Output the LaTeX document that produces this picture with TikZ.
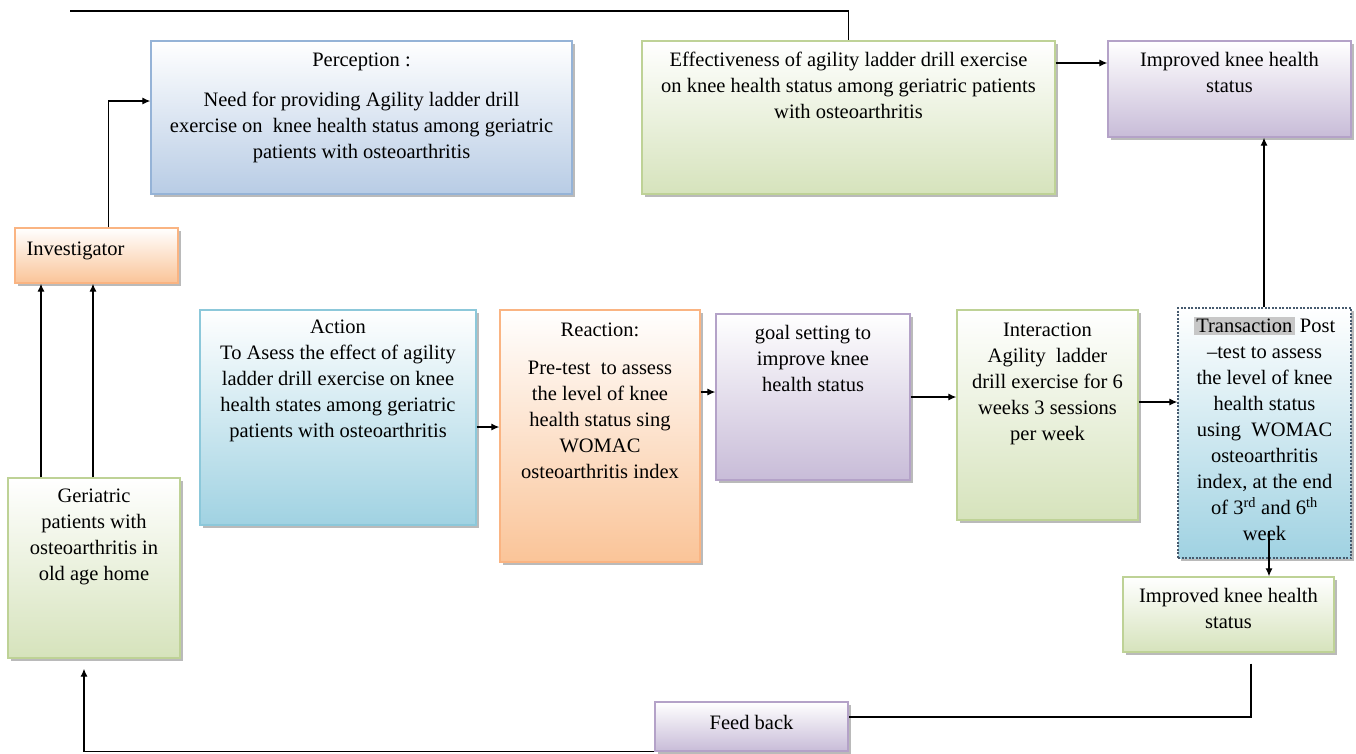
\documentclass[tikz,border=0pt]{standalone}
\usepackage{fontspec}
\setmainfont{Liberation Serif}
\usetikzlibrary{positioning,shadows,arrows.meta}

\definecolor{bluebd}{RGB}{149,179,215}
\definecolor{bluebt}{RGB}{184,204,229}
\definecolor{orangebd}{RGB}{250,180,130}
\definecolor{orangebt}{RGB}{250,196,152}
\definecolor{greenbd}{RGB}{190,210,150}
\definecolor{greenbt}{RGB}{214,227,188}
\definecolor{aquabd}{RGB}{140,200,218}
\definecolor{aquabt}{RGB}{160,210,226}
\definecolor{purplebd}{RGB}{180,162,200}
\definecolor{purplebt}{RGB}{200,188,216}
\definecolor{transbd}{RGB}{70,90,110}

\begin{document}
\begin{tikzpicture}
  [x=1pt,y=-1pt,
   box/.style={rectangle,line width=1.3pt,top color=white,
     drop shadow={shadow xshift=2.5pt,shadow yshift=-2.5pt,fill=black!45,opacity=.6}},
   bluebox/.style={box,draw=bluebd,bottom color=bluebt},
   orangebox/.style={box,draw=orangebd,bottom color=orangebt},
   greenbox/.style={box,draw=greenbd,bottom color=greenbt},
   aquabox/.style={box,draw=aquabd,bottom color=aquabt},
   purplebox/.style={box,draw=purplebd,bottom color=purplebt},
   transbox/.style={box,draw=transbd,line width=1.3pt,dash pattern=on 2pt off 1.5pt,bottom color=aquabt},
   txt/.style={align=center,inner sep=0pt,font=\fontsize{20.5}{26}\selectfont},
   line/.style={line width=1.2pt,black},
   arr/.style={line,-{Latex[length=8pt,width=7pt]}}]

  \useasboundingbox (0,0) rectangle (1356,753);

  % boxes
  \node[bluebox,minimum width=421pt,minimum height=153pt] (perc) at (361.5,117.5) {};
  \node[greenbox,minimum width=413pt,minimum height=153pt] (eff) at (848.5,117.5) {};
  \node[purplebox,minimum width=243pt,minimum height=96pt] (imp1) at (1229.5,89) {};
  \node[orangebox,minimum width=163pt,minimum height=55pt] (inv) at (96.5,255.5) {};
  \node[aquabox,minimum width=276pt,minimum height=215pt] (act) at (338,417.5) {};
  \node[orangebox,minimum width=200pt,minimum height=252pt] (react) at (600,436) {};
  \node[purplebox,minimum width=194pt,minimum height=166pt] (goal) at (813,397) {};
  \node[greenbox,minimum width=181pt,minimum height=210pt] (inter) at (1047.5,415) {};
  \node[transbox,minimum width=173pt,minimum height=250pt] (trans) at (1264.5,433) {};
  \node[greenbox,minimum width=211pt,minimum height=75pt] (imp2) at (1228.5,614.5) {};
  \node[greenbox,minimum width=172pt,minimum height=180pt] (ger) at (94,568) {};
  \node[purplebox,minimum width=193pt,minimum height=49pt] (fb) at (751.5,726.5) {};

  % texts
  \node[txt,below=12pt of perc.north] (perc-t) {Perception :\\[14pt]
    Need for providing Agility ladder drill\\
    exercise on\ \ knee health status among geriatric\\
    patients with osteoarthritis};
  \node[txt,below=12pt of eff.north] (eff-t) {Effectiveness of agility ladder drill exercise\\
    on knee health status among geriatric patients\\
    with osteoarthritis};
  \node[txt,below=12pt of imp1.north] (imp1-t) {Improved knee health\\status};
  \node[txt,anchor=west] (inv-t) at ([xshift=12pt,yshift=5pt]inv.west) {Investigator};
  \node[txt,below=10pt of act.north] (act-t) {Action\\
    To Asess the effect of agility\\
    ladder drill exercise on knee\\
    health states among geriatric\\
    patients with osteoarthritis};
  \node[txt,below=13pt of react.north] (react-t) {Reaction:\\[12pt]
    Pre-test\ \ to assess\\
    the level of knee\\
    health status sing\\
    WOMAC\\
    osteoarthritis index};
  \node[txt,below=12pt of goal.north] (goal-t) {goal setting to\\improve knee\\health status};
  \node[txt,below=13pt of inter.north] (inter-t) {Interaction\\
    Agility\ \ ladder\\
    drill exercise for 6\\
    weeks 3 sessions\\
    per week};
  \node[txt,below=9pt of trans.north] (trans-t) {{\setlength{\fboxsep}{2.5pt}\colorbox{black!22}{Transaction}} Post\\
    --test to assess\\
    the level of knee\\
    health status\\
    using\ \ WOMAC\\
    osteoarthritis\\
    index, at the end\\
    of 3\textsuperscript{rd} and 6\textsuperscript{th}\\
    week};
  \node[txt,below=12pt of imp2.north] (imp2-t) {Improved knee health\\status};
  \node[txt,below=11pt of ger.north] (ger-t) {Geriatric\\patients with\\osteoarthritis in\\old age home};
  \node[txt] (fb-t) at ([yshift=4pt]fb.center) {Feed back};

  % connectors
  \coordinate (topL) at (70,11);
  \draw[line] (topL) -| (eff.north);
  \draw[arr] ([xshift=12pt]inv.north) |- ([yshift=16.5pt]perc.west);
  \draw[arr] ([xshift=-53pt]ger.north) -- ([xshift=-55.5pt]inv.south);
  \draw[arr] ([xshift=-1pt]ger.north) -- ([xshift=-3.5pt]inv.south);
  \draw[arr] (act.east |- 0,427) -- (react.west |- 0,427);
  \draw[arr] (react.east |- 0,392) -- (goal.west |- 0,392);
  \draw[arr] (goal.east |- 0,397) -- (inter.west |- 0,397);
  \draw[arr] (inter.east |- 0,402) -- (trans.west |- 0,402);
  \draw[arr] (eff.east |- 0,63) -- (imp1.west |- 0,63);
  \draw[arr] (trans.north -| 1264,0) -- (imp1.south -| 1264,0);
  \draw[arr] ([yshift=28pt]trans.south -| 1269,0) -- (imp2.north -| 1269,0);
  \draw[line] ([yshift=-11pt]imp2.south -| 1251,0) |- (fb.east |- 0,717);
  \draw[arr] (fb.south west) -| ([xshift=-10pt,yshift=-10pt]ger.south);

\end{tikzpicture}
\end{document}
